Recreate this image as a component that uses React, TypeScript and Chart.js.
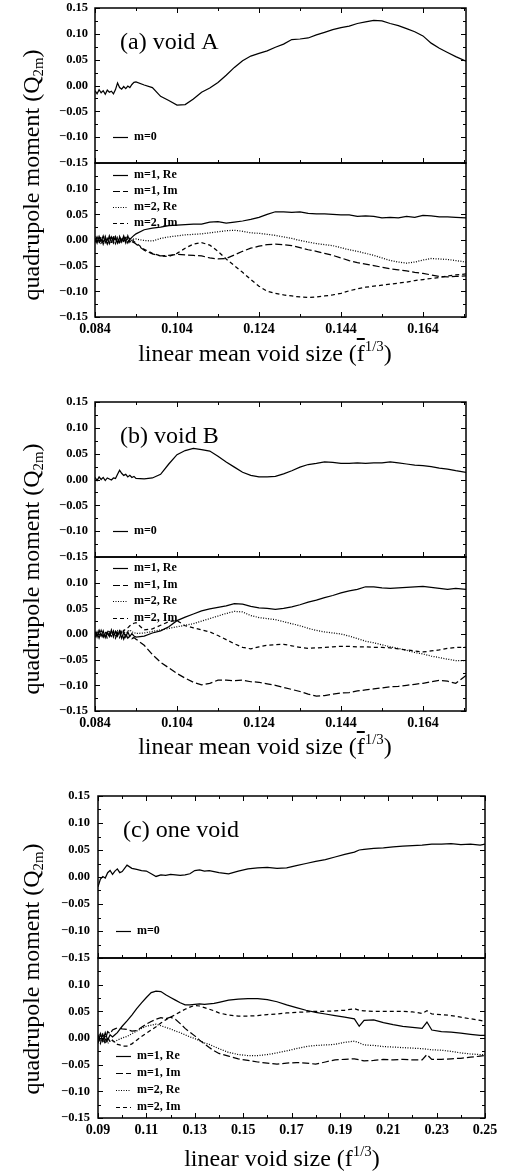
import React, { useEffect, useRef } from 'react';
import { Chart, registerables } from 'chart.js';

Chart.register(...registerables);

const SERIF = '"Liberation Serif", "Times New Roman", serif';

// ---------- x grids ----------
const xAB = [0.0840,0.0845,0.0850,0.0855,0.0860,0.0865,0.0870,0.0875,0.0880,0.0885,0.0890,0.0895,0.0900,0.0905,0.0910,0.0915,0.0920,0.0925,0.0930,0.0935,0.094,0.096,0.098,0.100,0.102,0.104,0.106,0.108,0.110,0.112,0.114,0.116,0.118,0.120,0.122,0.124,0.126,0.128,0.130,0.132,0.134,0.136,0.138,0.140,0.142,0.144,0.146,0.148,0.150,0.152,0.154,0.156,0.158,0.160,0.162,0.164,0.166,0.168,0.170,0.172,0.1745];
const xC = [0.090,0.091,0.092,0.093,0.094,0.095,0.096,0.097,0.098,0.099,0.100,0.102,0.104,0.106,0.108,0.110,0.112,0.114,0.116,0.118,0.120,0.122,0.124,0.126,0.128,0.130,0.132,0.134,0.136,0.138,0.140,0.144,0.148,0.152,0.156,0.160,0.164,0.168,0.172,0.176,0.180,0.184,0.188,0.192,0.196,0.198,0.200,0.204,0.208,0.212,0.216,0.220,0.224,0.226,0.228,0.232,0.236,0.240,0.244,0.248,0.250];

// ---------- panel (a) void A ----------
const aM0 = [-0.010,-0.016,-0.008,-0.014,-0.010,-0.017,-0.009,-0.013,-0.011,-0.016,-0.008,0.005,-0.004,-0.007,-0.002,-0.006,-0.001,-0.004,0.002,0.006,0.007,0.001,-0.004,-0.021,-0.029,-0.038,-0.037,-0.026,-0.013,-0.005,0.006,0.020,0.035,0.048,0.057,0.062,0.067,0.074,0.080,0.089,0.090,0.092,0.098,0.103,0.108,0.112,0.115,0.120,0.123,0.126,0.125,0.120,0.116,0.110,0.104,0.096,0.082,0.072,0.064,0.056,0.047];
const aM1Re = [0.004,-0.006,0.007,-0.003,0.008,-0.005,0.003,-0.007,0.006,-0.002,0.007,-0.006,0.005,-0.004,0.008,-0.003,0.006,0.001,0.005,0.009,0.012,0.020,0.023,0.025,0.028,0.029,0.030,0.031,0.031,0.035,0.036,0.033,0.035,0.037,0.040,0.044,0.050,0.055,0.055,0.054,0.055,0.052,0.051,0.051,0.050,0.049,0.049,0.046,0.047,0.046,0.043,0.044,0.043,0.046,0.044,0.048,0.047,0.045,0.045,0.044,0.043];
const aM1Im = [-0.005,0.006,-0.004,0.007,-0.008,0.003,-0.006,0.008,-0.003,0.005,-0.007,0.004,-0.005,0.006,-0.002,0.004,-0.006,0.002,-0.003,-0.005,-0.008,-0.020,-0.027,-0.031,-0.030,-0.028,-0.029,-0.030,-0.031,-0.035,-0.037,-0.036,-0.029,-0.022,-0.016,-0.012,-0.009,-0.008,-0.009,-0.011,-0.015,-0.019,-0.022,-0.026,-0.030,-0.035,-0.040,-0.044,-0.047,-0.050,-0.053,-0.056,-0.058,-0.060,-0.063,-0.065,-0.068,-0.071,-0.072,-0.071,-0.070];
const aM2Re = [0.007,-0.002,0.005,-0.008,0.002,0.006,-0.005,0.004,-0.007,0.008,-0.001,0.005,-0.006,0.003,-0.004,0.007,-0.002,0.003,-0.001,0.002,0.002,-0.001,-0.002,0.003,0.006,0.008,0.010,0.011,0.012,0.014,0.016,0.018,0.019,0.017,0.014,0.013,0.011,0.009,0.006,0.003,-0.001,-0.004,-0.007,-0.009,-0.011,-0.015,-0.019,-0.022,-0.026,-0.030,-0.035,-0.040,-0.043,-0.045,-0.043,-0.039,-0.036,-0.037,-0.038,-0.040,-0.043];
const aM2Im = [-0.002,0.008,-0.007,0.003,-0.004,0.007,-0.008,0.002,0.005,-0.006,0.003,-0.008,0.007,-0.003,0.005,-0.006,0.008,-0.004,0.002,-0.003,-0.006,-0.018,-0.026,-0.031,-0.032,-0.026,-0.016,-0.008,-0.005,-0.010,-0.022,-0.037,-0.050,-0.063,-0.077,-0.090,-0.100,-0.104,-0.107,-0.109,-0.111,-0.112,-0.111,-0.109,-0.107,-0.104,-0.099,-0.095,-0.092,-0.090,-0.088,-0.086,-0.084,-0.082,-0.079,-0.077,-0.075,-0.073,-0.070,-0.068,-0.066];

// ---------- panel (b) void B ----------
const bM0 = [0.004,-0.002,0.005,0.000,0.004,-0.002,0.003,0.001,-0.001,0.003,0.002,0.010,0.018,0.012,0.008,0.010,0.005,0.008,0.004,0.006,0.002,0.001,0.003,0.010,0.030,0.048,0.056,0.060,0.058,0.055,0.045,0.034,0.024,0.014,0.008,0.005,0.005,0.006,0.011,0.017,0.024,0.029,0.031,0.034,0.033,0.031,0.031,0.032,0.031,0.032,0.032,0.034,0.032,0.030,0.028,0.027,0.025,0.022,0.020,0.017,0.014];
const bM1Re = [0.005,-0.006,0.007,-0.004,0.006,-0.007,0.004,-0.005,0.008,-0.006,0.005,-0.004,0.006,-0.008,0.003,-0.006,0.004,-0.005,0.001,-0.004,-0.006,-0.004,0.002,0.006,0.014,0.026,0.033,0.039,0.045,0.049,0.052,0.055,0.059,0.058,0.054,0.051,0.050,0.048,0.050,0.053,0.057,0.062,0.066,0.071,0.075,0.080,0.084,0.087,0.092,0.092,0.090,0.089,0.090,0.091,0.092,0.093,0.091,0.089,0.087,0.089,0.087];
const bM1Im = [-0.007,0.004,-0.008,0.003,-0.006,0.005,-0.009,0.002,-0.005,0.006,-0.008,0.001,-0.007,0.004,-0.010,0.000,-0.008,-0.004,-0.009,-0.007,-0.010,-0.022,-0.040,-0.055,-0.066,-0.077,-0.086,-0.094,-0.099,-0.096,-0.090,-0.090,-0.091,-0.090,-0.093,-0.094,-0.097,-0.100,-0.104,-0.108,-0.112,-0.117,-0.121,-0.120,-0.117,-0.115,-0.114,-0.111,-0.109,-0.107,-0.105,-0.103,-0.102,-0.100,-0.098,-0.096,-0.093,-0.090,-0.092,-0.096,-0.081];
const bM2Re = [0.002,-0.005,0.006,-0.002,0.004,-0.006,0.003,0.007,-0.004,0.005,-0.003,0.006,-0.002,0.004,0.007,-0.001,0.005,0.008,0.004,0.003,0.001,0.002,0.005,0.008,0.011,0.014,0.017,0.020,0.025,0.030,0.035,0.040,0.044,0.043,0.036,0.032,0.030,0.028,0.024,0.020,0.016,0.011,0.007,0.004,0.002,0.000,-0.004,-0.009,-0.014,-0.017,-0.021,-0.025,-0.028,-0.032,-0.036,-0.039,-0.043,-0.046,-0.049,-0.052,-0.052];
const bM2Im = [-0.004,0.006,-0.003,0.007,-0.005,0.004,0.001,-0.006,0.006,-0.002,0.005,0.002,0.008,-0.001,0.006,0.010,0.012,0.016,0.019,0.021,0.022,0.008,0.010,0.017,0.024,0.026,0.016,0.012,0.008,0.004,-0.003,-0.011,-0.019,-0.026,-0.029,-0.025,-0.022,-0.021,-0.020,-0.023,-0.026,-0.028,-0.027,-0.026,-0.025,-0.024,-0.024,-0.025,-0.025,-0.026,-0.026,-0.027,-0.029,-0.031,-0.033,-0.035,-0.033,-0.031,-0.028,-0.026,-0.026];

// ---------- panel (c) one void ----------
const cM0 = [-0.018,-0.004,0.001,-0.002,0.008,0.012,0.005,0.011,0.015,0.008,0.010,0.022,0.016,0.014,0.012,0.011,0.006,0.001,0.004,0.003,0.005,0.004,0.003,0.004,0.006,0.012,0.013,0.011,0.012,0.010,0.008,0.006,0.011,0.015,0.017,0.018,0.016,0.017,0.021,0.025,0.029,0.032,0.037,0.042,0.046,0.050,0.051,0.053,0.054,0.056,0.057,0.058,0.059,0.060,0.061,0.061,0.062,0.060,0.061,0.059,0.061];
const cM1Re = [-0.010,0.008,-0.006,0.010,-0.004,0.006,0.002,0.006,0.010,0.016,0.022,0.032,0.043,0.055,0.066,0.076,0.085,0.088,0.087,0.081,0.076,0.071,0.066,0.062,0.062,0.063,0.064,0.063,0.064,0.065,0.067,0.071,0.073,0.074,0.074,0.072,0.068,0.062,0.057,0.052,0.048,0.045,0.042,0.039,0.036,0.022,0.033,0.034,0.029,0.025,0.022,0.020,0.018,0.030,0.015,0.012,0.011,0.009,0.007,0.005,0.005];
const cM1Im = [0.006,-0.008,0.010,-0.004,0.012,0.008,0.015,0.017,0.019,0.018,0.017,0.016,0.013,0.014,0.020,0.026,0.031,0.035,0.038,0.036,0.039,0.035,0.027,0.018,0.011,0.004,-0.004,-0.011,-0.018,-0.024,-0.029,-0.034,-0.039,-0.042,-0.045,-0.047,-0.049,-0.047,-0.046,-0.047,-0.049,-0.045,-0.041,-0.040,-0.039,-0.041,-0.043,-0.042,-0.040,-0.041,-0.040,-0.041,-0.041,-0.031,-0.040,-0.040,-0.039,-0.038,-0.036,-0.034,-0.033];
const cM2Re = [-0.004,0.009,-0.008,0.005,-0.010,-0.006,-0.005,-0.007,-0.004,-0.002,0.000,0.003,0.008,0.013,0.018,0.022,0.024,0.026,0.023,0.020,0.017,0.013,0.010,0.006,0.002,-0.001,-0.005,-0.009,-0.012,-0.016,-0.020,-0.027,-0.031,-0.033,-0.033,-0.031,-0.028,-0.024,-0.020,-0.016,-0.014,-0.013,-0.012,-0.008,-0.006,-0.009,-0.013,-0.014,-0.016,-0.017,-0.018,-0.019,-0.020,-0.021,-0.022,-0.023,-0.025,-0.028,-0.030,-0.031,-0.031];
const cM2Im = [0.003,-0.010,0.006,-0.012,0.002,-0.008,-0.004,-0.009,-0.012,-0.013,-0.015,-0.015,-0.011,-0.004,0.003,0.009,0.015,0.021,0.028,0.034,0.039,0.044,0.049,0.054,0.058,0.061,0.060,0.057,0.054,0.051,0.047,0.043,0.041,0.041,0.042,0.044,0.045,0.047,0.048,0.049,0.050,0.050,0.051,0.052,0.055,0.052,0.051,0.050,0.050,0.050,0.050,0.049,0.046,0.051,0.045,0.044,0.042,0.039,0.036,0.033,0.031];

// ---------- ticks & labels ----------
const xTicksAB = [0.084, 0.104, 0.124, 0.144, 0.164];
const xMinorAB = [0.094, 0.114, 0.134, 0.154, 0.174];
const xTicksC = [0.09, 0.11, 0.13, 0.15, 0.17, 0.19, 0.21, 0.23, 0.25];
const xMinorC = [0.10, 0.12, 0.14, 0.16, 0.18, 0.20, 0.22, 0.24];
const yTicksTop = [-0.15, -0.10, -0.05, 0, 0.05, 0.10, 0.15];
const yTicksBottom = [-0.15, -0.10, -0.05, 0, 0.05, 0.10];
const yMajor = [-0.15, -0.10, -0.05, 0, 0.05, 0.10, 0.15];
const yMinor = [-0.125, -0.075, -0.025, 0.025, 0.075, 0.125];
const topLabels = ['m=0'];
const bottomLabels = ['m=1, Re', 'm=1, Im', 'm=2, Re', 'm=2, Im'];
const topDashes = [[]];
const bottomDashes = [[], [7, 3], [1, 1.5], [4, 3]];

type Sub = {
  top: number; bottom: number; left: number; right: number;
  xs: number[]; series: number[][]; labels: string[]; dashes: number[][];
  xMin: number; xMax: number; xTicks: number[]; xMinor: number[]; xDigits: number;
  yTicks: number[]; yPad: number; showX: boolean; panelLabel?: string;
  legendFromBottom: boolean; legendStart: number; legendStep: number;
  topTicks: boolean;
};

const framePlugin = {
  id: 'frame',
  afterDatasetsDraw(chart: any, _a: any, opts: any) {
    const { ctx, chartArea } = chart;
    const { left, right, top, bottom } = chartArea;
    const xs = chart.scales.x;
    const ys = chart.scales.y;
    ctx.save();
    ctx.strokeStyle = '#000';
    ctx.fillStyle = '#000';
    ctx.setLineDash([]);
    ctx.lineWidth = 1;
    const vt = (vals: number[], len: number) => {
      for (const v of vals) {
        const px = Math.round(xs.getPixelForValue(v)) + 0.5;
        if (px < left - 1 || px > right + 1) continue;
        ctx.beginPath();
        ctx.moveTo(px, bottom); ctx.lineTo(px, bottom - len);
        if (opts.topTicks) { ctx.moveTo(px, top); ctx.lineTo(px, top + len); }
        ctx.stroke();
      }
    };
    vt(opts.xMajor, 5); vt(opts.xMinor, 3);
    const ht = (vals: number[], len: number) => {
      for (const v of vals) {
        const py = Math.round(ys.getPixelForValue(v)) + 0.5;
        ctx.beginPath();
        ctx.moveTo(left, py); ctx.lineTo(left + len, py);
        ctx.moveTo(right, py); ctx.lineTo(right - len, py);
        ctx.stroke();
      }
    };
    ht(opts.yMajor, 5); ht(opts.yMinor, 3);
    ctx.lineWidth = 1.5;
    ctx.strokeRect(left, top, right - left, bottom - top);

    // legend
    ctx.font = `bold 12px ${SERIF}`;
    ctx.textBaseline = 'middle';
    ctx.textAlign = 'left';
    chart.data.datasets.forEach((ds: any, i: number) => {
      const y = opts.legendFromBottom
        ? bottom - opts.legendStart + i * opts.legendStep
        : top + opts.legendStart + i * opts.legendStep;
      ctx.lineWidth = 1.2;
      ctx.setLineDash(ds.borderDash || []);
      ctx.beginPath();
      ctx.moveTo(left + 18, Math.round(y) + 0.5);
      ctx.lineTo(left + 33, Math.round(y) + 0.5);
      ctx.stroke();
      ctx.setLineDash([]);
      ctx.fillText(ds.label, left + 39, y);
    });
    if (opts.panelLabel) {
      ctx.font = `24px ${SERIF}`;
      ctx.fillText(opts.panelLabel, left + 25, top + 35);
    }
    ctx.restore();
  },
};

const fmtY = (v: number) => {
  const n = Number(v);
  if (Math.abs(n) < 1e-9) return '0.00';
  return (n < 0 ? '\u2212' : '') + Math.abs(n).toFixed(2);
};

function SubPlot({ cfg }: { cfg: Sub }) {
  const ref = useRef<HTMLCanvasElement | null>(null);
  const plotH = cfg.bottom - cfg.top;
  const xH = 30;
  const height = 10 + plotH + (cfg.showX ? xH : 10);
  useEffect(() => {
    if (!ref.current) return;
    const chart = new Chart(ref.current, {
      type: 'line',
      data: {
        datasets: cfg.series.map((vals, i) => ({
          label: cfg.labels[i],
          data: cfg.xs.map((x, j) => ({ x, y: vals[j] })),
          borderColor: '#000',
          borderWidth: 1.25,
          borderDash: cfg.dashes[i],
          pointRadius: 0,
          fill: false,
          tension: 0,
        })),
      },
      options: {
        responsive: false,
        animation: false,
        devicePixelRatio: 1,
        events: [],
        layout: { padding: { left: 0, right: 505 - cfg.right, top: 10, bottom: cfg.showX ? 0 : 10 } },
        plugins: {
          legend: { display: false },
          tooltip: { enabled: false },
          title: { display: false },
          frame: {
            xMajor: cfg.xTicks, xMinor: cfg.xMinor, yMajor, yMinor,
            topTicks: cfg.topTicks, panelLabel: cfg.panelLabel,
            legendFromBottom: cfg.legendFromBottom, legendStart: cfg.legendStart, legendStep: cfg.legendStep,
          },
        } as any,
        scales: {
          x: {
            type: 'linear',
            min: cfg.xMin,
            max: cfg.xMax,
            display: cfg.showX,
            afterBuildTicks: (s: any) => { s.ticks = cfg.xTicks.map((v) => ({ value: v })); },
            afterFit: (s: any) => {
              if (cfg.showX) s.height = xH;
              s.paddingLeft = 0; s.paddingRight = 0; s.paddingTop = 0; s.paddingBottom = 0;
            },
            ticks: {
              autoSkip: false, maxRotation: 0, padding: 4, color: '#000',
              font: { family: SERIF, size: 14, weight: 'bold' },
              callback: (v: any) => Number(v).toFixed(cfg.xDigits),
            },
            grid: { display: false, drawTicks: false },
            border: { display: false },
          },
          y: {
            type: 'linear',
            min: -0.15,
            max: 0.15,
            afterBuildTicks: (s: any) => { s.ticks = cfg.yTicks.map((v) => ({ value: v })); },
            afterFit: (s: any) => {
              s.width = cfg.left;
              s.paddingLeft = 0; s.paddingRight = 0; s.paddingTop = 0; s.paddingBottom = 0;
            },
            ticks: {
              padding: cfg.yPad, color: '#000',
              font: { family: SERIF, size: 12.5, weight: 'bold' },
              callback: (v: any) => fmtY(v),
            },
            grid: { display: false, drawTicks: false },
            border: { display: false },
          },
        },
      } as any,
      plugins: [framePlugin],
    });
    return () => chart.destroy();
  }, []);
  return (
    <canvas
      ref={ref}
      width={505}
      height={height}
      style={{ position: 'absolute', left: 0, top: cfg.top - 10, width: 505, height }}
    />
  );
}

const baseAB = { left: 95, right: 466, xs: xAB, xMin: 0.084, xMax: 0.1745, xTicks: xTicksAB, xMinor: xMinorAB, xDigits: 3, yPad: 7 };
const baseC = { left: 98, right: 485, xs: xC, xMin: 0.09, xMax: 0.25, xTicks: xTicksC, xMinor: xMinorC, xDigits: 2, yPad: 8 };

const subs: Sub[] = [
  { ...baseAB, top: 8, bottom: 163, series: [aM0], labels: topLabels, dashes: topDashes, yTicks: yTicksTop, showX: false, panelLabel: '(a) void A', legendFromBottom: true, legendStart: 26, legendStep: 16, topTicks: true },
  { ...baseAB, top: 163, bottom: 317, series: [aM1Re, aM1Im, aM2Re, aM2Im], labels: bottomLabels, dashes: bottomDashes, yTicks: yTicksBottom, showX: true, legendFromBottom: false, legendStart: 12, legendStep: 16, topTicks: false },
  { ...baseAB, top: 402, bottom: 557, series: [bM0], labels: topLabels, dashes: topDashes, yTicks: yTicksTop, showX: false, panelLabel: '(b) void B', legendFromBottom: true, legendStart: 26, legendStep: 16, topTicks: true },
  { ...baseAB, top: 557, bottom: 711, series: [bM1Re, bM1Im, bM2Re, bM2Im], labels: bottomLabels, dashes: bottomDashes, yTicks: yTicksBottom, showX: true, legendFromBottom: false, legendStart: 11, legendStep: 16.5, topTicks: false },
  { ...baseC, top: 796, bottom: 958, series: [cM0], labels: topLabels, dashes: topDashes, yTicks: yTicksTop, showX: false, panelLabel: '(c) one void', legendFromBottom: true, legendStart: 27, legendStep: 16, topTicks: true },
  { ...baseC, top: 958, bottom: 1118, series: [cM1Re, cM1Im, cM2Re, cM2Im], labels: bottomLabels, dashes: bottomDashes, yTicks: yTicksBottom, showX: true, legendFromBottom: true, legendStart: 62, legendStep: 17, topTicks: false },
];

const titleFont = `24px ${SERIF}`;

function YTitle({ cy }: { cy: number }) {
  return (
    <div style={{ position: 'absolute', left: 31, top: cy, transform: 'translate(-50%,-50%) rotate(-90deg)', font: titleFont, whiteSpace: 'nowrap', lineHeight: 1, color: '#000' }}>
      quadrupole moment (Q<span style={{ fontSize: '0.62em', position: 'relative', top: '0.3em' }}>2m</span>)
    </div>
  );
}

function XTitle({ cx, cy, mean }: { cx: number; cy: number; mean: boolean }) {
  return (
    <div style={{ position: 'absolute', left: cx, top: cy, transform: 'translate(-50%,-50%)', font: titleFont, whiteSpace: 'nowrap', lineHeight: 1, color: '#000' }}>
      {mean ? 'linear mean void size (' : 'linear void size ('}
      <span style={{ textDecoration: mean ? 'overline' : 'none' }}>f</span>
      <span style={{ fontSize: '0.62em', position: 'relative', top: '-0.7em' }}>1/3</span>)
    </div>
  );
}

export default function App() {
  return (
    <div style={{ position: 'absolute', left: 0, top: 0, width: 505, height: 1175, background: '#fff', overflow: 'hidden' }}>
      {subs.map((s, i) => <SubPlot key={i} cfg={s} />)}
      <YTitle cy={175} />
      <YTitle cy={569} />
      <YTitle cy={969} />
      <XTitle cx={265} cy={353} mean={true} />
      <XTitle cx={265} cy={746} mean={true} />
      <XTitle cx={282} cy={1158} mean={false} />
    </div>
  );
}
